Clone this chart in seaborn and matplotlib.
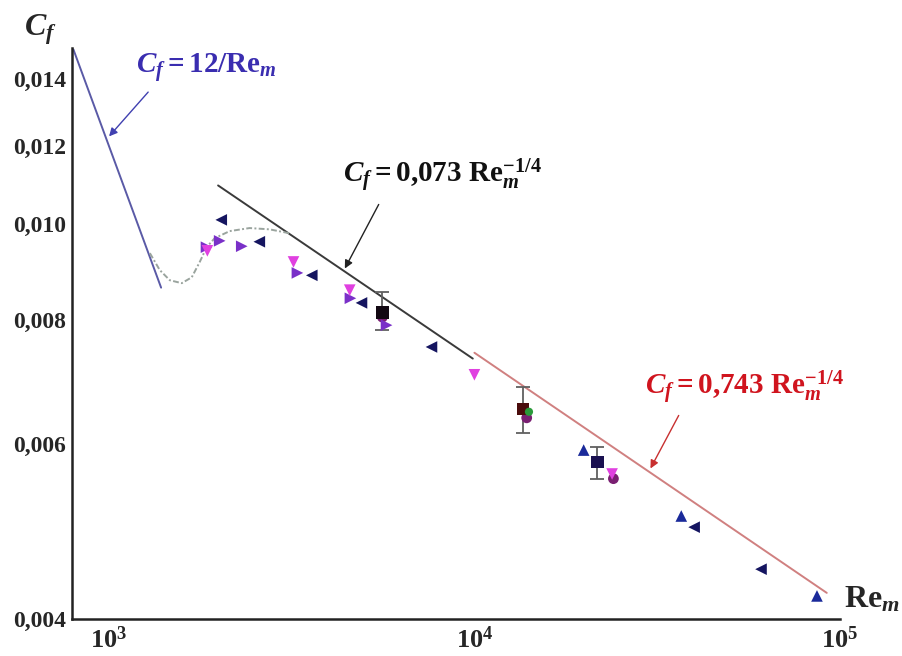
import matplotlib
matplotlib.use("Agg")
import matplotlib.pyplot as plt
from matplotlib.ticker import FixedLocator, FixedFormatter, NullFormatter
import seaborn as sns
import pandas as pd

# ---------------- data ----------------
# navy left-pointing triangles
re_left = [2030, 2580, 3590, 4910, 7630, 39900, 60800]
cf_left = [0.0101, 0.0096, 0.00888, 0.00833, 0.00752, 0.00495, 0.00449]
# navy up triangles
re_up = [19900, 36800, 86500]
cf_up = [0.00592, 0.00508, 0.00422]
# violet right-pointing triangles
re_right = [1850, 2010, 2310, 3280, 4580, 5750]
cf_right = [0.00948, 0.00962, 0.0095, 0.00893, 0.00842, 0.00791]
# magenta down triangles
re_down = [1860, 3200, 4560, 10000, 23800]
cf_down = [0.0094, 0.00916, 0.00858, 0.00705, 0.0056]
# dark purple circles
re_circ = [5600, 13900, 24000]
cf_circ = [0.00806, 0.00638, 0.00554]
# green circle
re_green = [14100]
cf_green = [0.00647]
# squares with error bars
re_sq = [5600, 13600, 21700]
cf_sq = [0.00815, 0.00651, 0.00576]
cf_sq_lo = [0.00782, 0.00616, 0.00554]
cf_sq_hi = [0.00854, 0.00685, 0.00596]
sq_colors = ["#120812", "#4a0c0c", "#1a1050"]

# transition curve (dash-dot)
re_trans = [1295, 1378, 1468, 1583, 1686, 1773, 1852, 1948, 2141, 2427, 2754, 3123]
cf_trans = [0.00935, 0.00899, 0.00878, 0.00872, 0.00884, 0.00916, 0.00948,
            0.00968, 0.00984, 0.00991, 0.00988, 0.00979]

# correlation lines (end points)
re_lam = [800, 1390]
cf_lam = [0.0150, 0.00863]
re_turb1 = [1990, 9900]
cf_turb1 = [0.01094, 0.00732]
re_turb2 = [10000, 92000]
cf_turb2 = [0.00742, 0.00425]

y_major = [0.004, 0.006, 0.008, 0.010, 0.012, 0.014]
y_major_labels = ["0,004", "0,006", "0,008", "0,010", "0,012", "0,014"]
y_minor = [0.005, 0.007, 0.009, 0.011, 0.013]
x_major = [1e3, 1e4, 1e5]
x_major_labels = [r"$10^3$", r"$10^4$", r"$10^5$"]

# ---------------- style ----------------
sns.set_style("white")
plt.rcParams["font.family"] = ["Liberation Serif", "DejaVu Serif"]
plt.rcParams["font.weight"] = "bold"
plt.rcParams["mathtext.fontset"] = "custom"
plt.rcParams["mathtext.rm"] = "Liberation Serif:bold"
plt.rcParams["mathtext.bf"] = "Liberation Serif:bold"
plt.rcParams["mathtext.it"] = "Liberation Serif:bold:italic"

W, H = 902, 656
fig = plt.figure(figsize=(W / 100, H / 100), dpi=100)
ax = fig.add_axes([72 / W, 1 - 619 / H, (840 - 72) / W, (619 - 48) / H])
ax.set_xscale("log")
ax.set_yscale("log")

# lines
sns.lineplot(x=re_lam, y=cf_lam, ax=ax, color="#5a5aa6", lw=1.4, sort=False)
sns.lineplot(x=re_turb1, y=cf_turb1, ax=ax, color="#3a3a3a", lw=1.4, sort=False)
sns.lineplot(x=re_turb2, y=cf_turb2, ax=ax, color="#d08080", lw=1.4, sort=False)
sns.lineplot(x=re_trans, y=cf_trans, ax=ax, color="#9aa49e", lw=1.4,
             linestyle=(0, (3, 1.2, 1, 1.2)), sort=False)

# error bars for squares
for r, c, lo, hi in zip(re_sq, cf_sq, cf_sq_lo, cf_sq_hi):
    ax.errorbar([r], [c], yerr=[[c - lo], [hi - c]], fmt="none",
                ecolor="#606060", elinewidth=1.3, capsize=5, capthick=1.3, zorder=3)

# markers
mk = dict(ax=ax, edgecolor="none", legend=False, zorder=4)
sns.scatterplot(x=re_circ, y=cf_circ, marker="o", s=60, color="#7a1f72", **mk)
sns.scatterplot(x=re_sq, y=cf_sq, marker="s", s=80, hue=sq_colors,
                palette={c: c for c in sq_colors}, **mk)
sns.scatterplot(x=re_green, y=cf_green, marker="o", s=35, color="#2a9a3a", **mk)
sns.scatterplot(x=re_left, y=cf_left, marker="<", s=70, color="#151560", **mk)
sns.scatterplot(x=re_up, y=cf_up, marker="^", s=70, color="#1a2a9a", **mk)
sns.scatterplot(x=re_right, y=cf_right, marker=">", s=70, color="#7a30c8", **mk)
sns.scatterplot(x=re_down, y=cf_down, marker="v", s=70, color="#e040e0", **mk)

# axes
ax.set_xlim(793, 1e5)
ax.set_ylim(0.004, 0.01505)
ax.xaxis.set_major_locator(FixedLocator(x_major))
ax.xaxis.set_major_formatter(FixedFormatter(x_major_labels))
ax.xaxis.set_minor_locator(FixedLocator([m * 10 ** e for e in (2, 3, 4) for m in range(2, 10)
                                         if 793 < m * 10 ** e < 1e5]))
ax.xaxis.set_minor_formatter(NullFormatter())
ax.yaxis.set_major_locator(FixedLocator(y_major))
ax.yaxis.set_major_formatter(FixedFormatter(y_major_labels))
ax.yaxis.set_minor_locator(FixedLocator(y_minor))
ax.yaxis.set_minor_formatter(NullFormatter())
ax.set_xlabel("")
ax.set_ylabel("")

for s in ("top", "right"):
    ax.spines[s].set_visible(False)
for s in ("left", "bottom"):
    ax.spines[s].set_linewidth(1.8)
    ax.spines[s].set_color("#222222")
ax.tick_params(which="major", direction="in", length=8, width=1.5, color="#222222")
ax.tick_params(which="minor", direction="in", length=5, width=1.3, color="#222222")
ax.tick_params(axis="y", which="major", labelsize=17, pad=4)
ax.tick_params(axis="x", which="major", labelsize=19, pad=5)

# axis titles
fig.text(40 / W, 1 - 30 / H, r"$C_f$", fontsize=23, ha="center", va="center")
fig.text(872 / W, 1 - 600 / H, r"$\mathrm{Re}_m$", fontsize=23, ha="center", va="center")

# annotations
fs = 21
ax.annotate("", xy=(990, 0.0122), xycoords="data",
            xytext=(150 / W, 1 - 90 / H), textcoords="figure fraction",
            arrowprops=dict(arrowstyle="-|>", color="#4040b0", lw=1.0, mutation_scale=12))
fig.text(136 / W, 1 - 73 / H, r"$C_f = 12/\mathrm{Re}_m$", fontsize=fs,
         color="#3a2db0", ha="left", va="baseline")

ax.annotate("", xy=(4385, 0.00897), xycoords="data",
            xytext=(380 / W, 1 - 202 / H), textcoords="figure fraction",
            arrowprops=dict(arrowstyle="-|>", color="#222222", lw=1.0, mutation_scale=12))
fig.text(343 / W, 1 - 183 / H, r"$C_f = 0{,}073\ \mathrm{Re}_m^{-1/4}$", fontsize=fs,
         color="#111111", ha="left", va="baseline")

ax.annotate("", xy=(30060, 0.00564), xycoords="data",
            xytext=(680 / W, 1 - 413 / H), textcoords="figure fraction",
            arrowprops=dict(arrowstyle="-|>", color="#c83030", lw=1.0, mutation_scale=12))
fig.text(645 / W, 1 - 395 / H, r"$C_f = 0{,}743\ \mathrm{Re}_m^{-1/4}$", fontsize=fs,
         color="#d0141e", ha="left", va="baseline")

fig.savefig("out.png", dpi=100, facecolor="white")
